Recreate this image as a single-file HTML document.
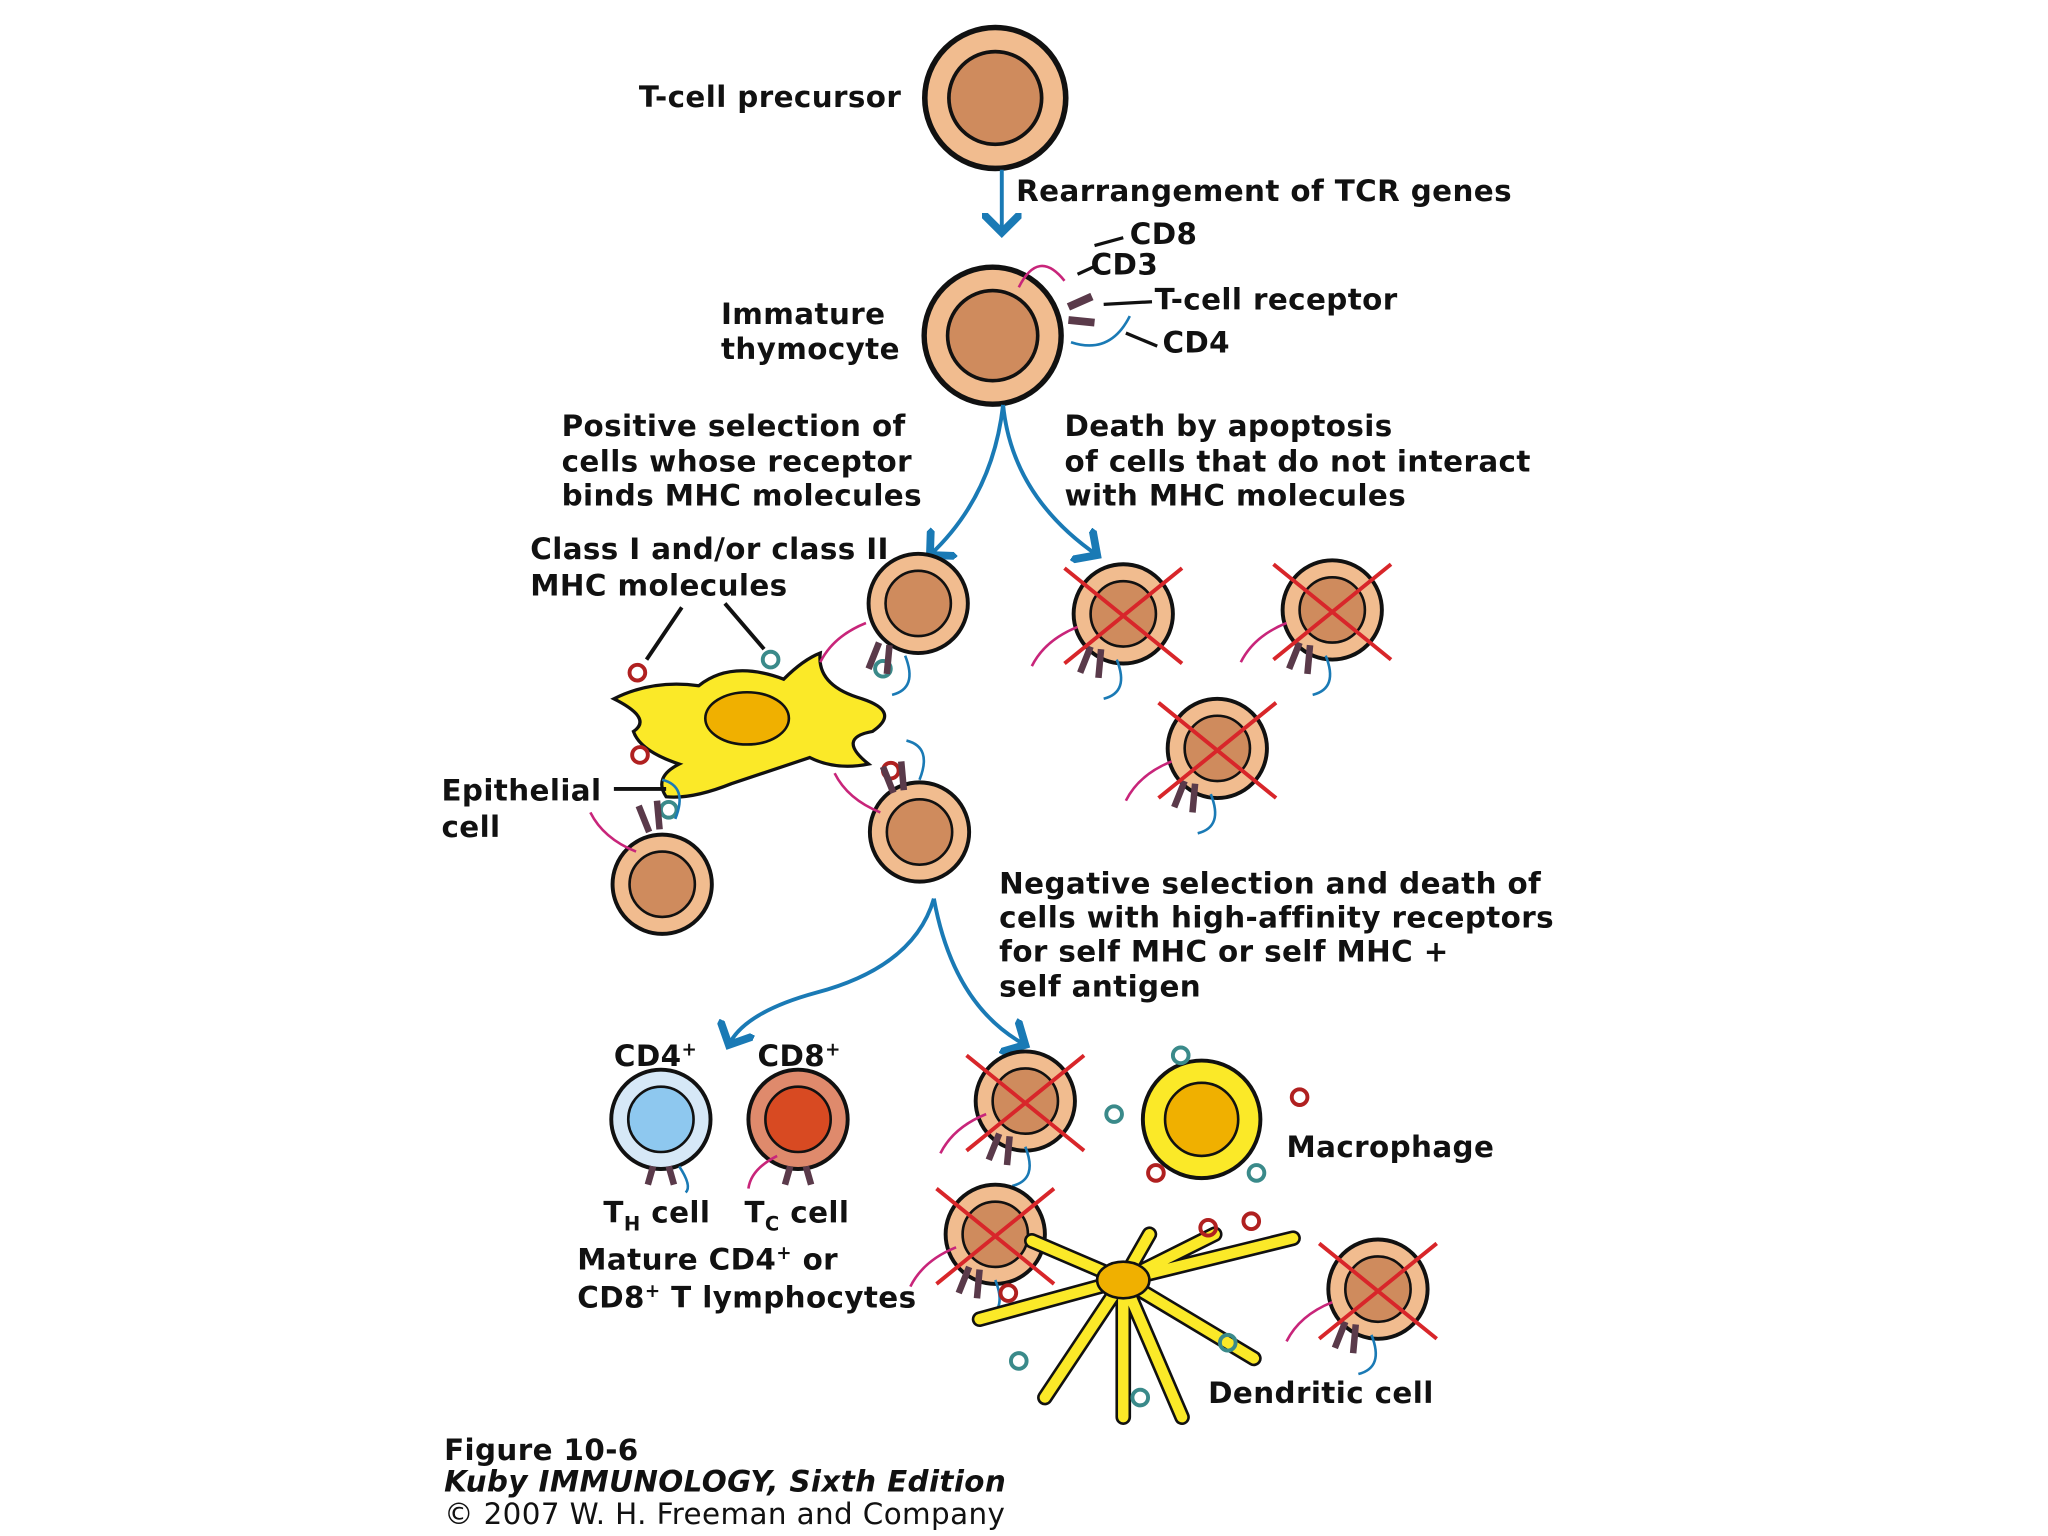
<!DOCTYPE html>
<html><head><meta charset="utf-8"><style>
html,body{margin:0;padding:0;background:#fff;}
svg{display:block;}
text{font-family:"DejaVu Sans","Liberation Sans",sans-serif;font-weight:bold;font-size:22.5px;letter-spacing:0.3px;fill:#111;}
</style></head><body>
<svg width="2048" height="1536" viewBox="0 0 1568 1176" xmlns="http://www.w3.org/2000/svg">
<defs>
<g id="cell"><circle r="38" fill="#f1bc8f" stroke="#111" stroke-width="3"/><circle r="25" fill="#cf8b5d" stroke="#111" stroke-width="2"/></g>
<g id="x"><path d="M-45,-35 L45,38 M45,-35 L-45,38" stroke="#d8262a" stroke-width="3" fill="none"/></g>
<marker id="ar" markerWidth="10" markerHeight="10" refX="5" refY="5" orient="auto"><path d="M0,0 L5,5 L0,10" stroke="#1a7ab5" stroke-width="2" fill="none"/></marker>
<g id="recp"><path d="M-30,-5 q-25,10 -35,30" stroke="#c8257a" stroke-width="2" fill="none"/><path d="M-20,10 l-8,20 M-12,12 l-2,22" stroke="#5a3a4a" stroke-width="5"/><path d="M0,20 q10,25 -10,30" stroke="#1a7ab5" stroke-width="2" fill="none"/></g>
</defs>

<g transform="translate(762,75) scale(1.42)"><use href="#cell"/></g>
<text x="690" y="82" text-anchor="end">T-cell precursor</text>
<path d="M767,130 L767,178" stroke="#1a7ab5" stroke-width="3" marker-end="url(#ar)"/>
<text x="778" y="154">Rearrangement of TCR genes</text>

<g transform="translate(760,257) scale(1.38)"><use href="#cell"/></g>
<path d="M815,215 q-20,-25 -35,5" stroke="#c8257a" stroke-width="2" fill="none"/>
<path d="M818,235 l18,-8 M818,245 l20,2" stroke="#5a3a4a" stroke-width="6"/>
<path d="M820,262 q30,10 45,-20" stroke="#1a7ab5" stroke-width="2" fill="none"/>
<path d="M838,188 L860,182 M825,210 L838,204 M845,233 L882,231 M862,255 L886,265" stroke="#111" stroke-width="2.5"/>
<text x="865" y="187">CD8</text><text x="835" y="210">CD3</text>
<text x="884" y="237">T-cell receptor</text><text x="890" y="270">CD4</text>
<text x="552" y="248">Immature</text><text x="552" y="275">thymocyte</text>

<path d="M768,310 Q760,380 712,425" stroke="#1a7ab5" stroke-width="3" fill="none" marker-end="url(#ar)"/>
<path d="M768,310 Q775,380 840,425" stroke="#1a7ab5" stroke-width="3" fill="none" marker-end="url(#ar)"/>
<text x="430" y="334">Positive selection of</text><text x="430" y="361">cells whose receptor</text><text x="430" y="387">binds MHC molecules</text>
<text x="815" y="334">Death by apoptosis</text><text x="815" y="361">of cells that do not interact</text><text x="815" y="387">with MHC molecules</text>
<text x="406" y="428">Class I and/or class II</text><text x="406" y="456">MHC molecules</text>
<path d="M522,465 L495,505 M555,462 L585,497" stroke="#111" stroke-width="3"/>

<path d="M470,535 Q500,520 535,525 Q560,505 600,520 Q615,505 628,500 Q625,525 660,535 Q690,545 668,560 Q640,565 665,585 Q640,590 620,580 Q590,590 560,600 Q530,612 510,610 Q500,595 520,585 Q490,575 485,560 Q500,550 470,535 Z" fill="#fbe928" stroke="#111" stroke-width="2.5"/>
<ellipse cx="572" cy="550" rx="32" ry="20" fill="#f0b000" stroke="#111" stroke-width="2"/>
<circle cx="488" cy="515" r="6" fill="none" stroke="#b02020" stroke-width="3"/>
<circle cx="590" cy="505" r="6" fill="none" stroke="#3a8a8a" stroke-width="3"/>
<circle cx="490" cy="578" r="6" fill="none" stroke="#b02020" stroke-width="3"/>
<circle cx="512" cy="620" r="6" fill="none" stroke="#3a8a8a" stroke-width="3"/>
<circle cx="676" cy="512" r="6" fill="none" stroke="#3a8a8a" stroke-width="3"/>
<circle cx="682" cy="590" r="6" fill="none" stroke="#b02020" stroke-width="3"/>
<path d="M470,604 L510,604" stroke="#111" stroke-width="3"/>
<text x="338" y="613">Epithelial</text><text x="338" y="641">cell</text>

<g transform="translate(703,462)"><use href="#cell"/><use href="#recp" transform="translate(-10,20)"/></g>
<g transform="translate(704,637)"><use href="#cell"/><use href="#recp" transform="translate(0,-20) rotate(180) scale(-1,1)"/></g>
<g transform="translate(507,677)"><use href="#cell"/><use href="#recp" transform="translate(10,-30) rotate(180) scale(-1,1)"/></g>

<g transform="translate(860,470)"><use href="#cell"/><use href="#recp" transform="translate(-5,15)"/><use href="#x"/></g>
<g transform="translate(1020,467)"><use href="#cell"/><use href="#recp" transform="translate(-5,15)"/><use href="#x"/></g>
<g transform="translate(932,573)"><use href="#cell"/><use href="#recp" transform="translate(-5,15)"/><use href="#x"/></g>

<text x="765" y="684">Negative selection and death of</text><text x="765" y="710">cells with high-affinity receptors</text><text x="765" y="736">for self MHC or self MHC +</text><text x="765" y="763">self antigen</text>
<path d="M715,688 Q700,740 625,760 Q570,775 558,800" stroke="#1a7ab5" stroke-width="3" fill="none" marker-end="url(#ar)"/>
<path d="M715,688 Q730,770 785,800" stroke="#1a7ab5" stroke-width="3" fill="none" marker-end="url(#ar)"/>

<text x="470" y="816">CD4<tspan font-size="14" dy="-8">+</tspan></text>
<text x="580" y="816">CD8<tspan font-size="14" dy="-8">+</tspan></text>
<circle cx="506" cy="857" r="38" fill="#d6e8f7" stroke="#111" stroke-width="3"/><circle cx="506" cy="857" r="25" fill="#8ec8ef" stroke="#111" stroke-width="2"/>
<circle cx="611" cy="857" r="38" fill="#df8a6c" stroke="#111" stroke-width="3"/><circle cx="611" cy="857" r="25" fill="#d84a22" stroke="#111" stroke-width="2"/>
<path d="M500,893 l-4,14 M512,893 l4,14 M605,893 l-4,14 M617,893 l4,14" stroke="#5a3a4a" stroke-width="5"/>
<path d="M520,893 q10,15 5,20" stroke="#1a7ab5" stroke-width="2" fill="none"/>
<path d="M595,885 q-20,10 -22,25" stroke="#c8257a" stroke-width="2" fill="none"/>
<text x="462" y="936">T<tspan font-size="15" dy="6">H</tspan><tspan dy="-6"> cell</tspan></text>
<text x="570" y="936">T<tspan font-size="15" dy="6">C</tspan><tspan dy="-6"> cell</tspan></text>
<text x="442" y="972">Mature CD4<tspan font-size="14" dy="-8">+</tspan><tspan dy="8"> or</tspan></text>
<text x="442" y="1001">CD8<tspan font-size="14" dy="-8">+</tspan><tspan dy="8"> T lymphocytes</tspan></text>

<g transform="translate(785,843)"><use href="#cell"/><use href="#recp" transform="translate(0,15)"/><use href="#x"/></g>
<circle cx="920" cy="857" r="45" fill="#fbe928" stroke="#111" stroke-width="3"/>
<circle cx="920" cy="857" r="28" fill="#f0b000" stroke="#111" stroke-width="2"/>
<circle cx="904" cy="808" r="6" fill="none" stroke="#3a8a8a" stroke-width="3"/>
<circle cx="995" cy="840" r="6" fill="none" stroke="#b02020" stroke-width="3"/>
<circle cx="962" cy="898" r="6" fill="none" stroke="#3a8a8a" stroke-width="3"/>
<circle cx="885" cy="898" r="6" fill="none" stroke="#b02020" stroke-width="3"/>
<circle cx="853" cy="853" r="6" fill="none" stroke="#3a8a8a" stroke-width="3"/>
<text x="985" y="886">Macrophage</text>

<g transform="translate(762,945)"><use href="#cell"/><use href="#recp" transform="translate(0,15)"/><use href="#x"/></g>
<g transform="translate(1055,987)"><use href="#cell"/><use href="#recp" transform="translate(-5,15)"/><use href="#x"/></g>
<g fill="none" stroke="#111" stroke-width="12" stroke-linecap="round">
<path d="M860,980 L750,1010 M860,980 L800,1070 M860,980 L860,1085 M860,980 L905,1085 M860,980 L960,1040 M860,980 L990,948 M860,980 L930,945 M860,980 L880,945 M860,980 L790,950"/>
</g>
<g fill="none" stroke="#fbe928" stroke-width="8" stroke-linecap="round">
<path d="M860,980 L750,1010 M860,980 L800,1070 M860,980 L860,1085 M860,980 L905,1085 M860,980 L960,1040 M860,980 L990,948 M860,980 L930,945 M860,980 L880,945 M860,980 L790,950"/>
</g>
<ellipse cx="860" cy="980" rx="20" ry="14" fill="#f0b000" stroke="#111" stroke-width="2"/>
<circle cx="925" cy="940" r="6" fill="none" stroke="#b02020" stroke-width="3"/>
<circle cx="958" cy="935" r="6" fill="none" stroke="#b02020" stroke-width="3"/>
<circle cx="940" cy="1028" r="6" fill="none" stroke="#3a8a8a" stroke-width="3"/>
<circle cx="780" cy="1042" r="6" fill="none" stroke="#3a8a8a" stroke-width="3"/>
<circle cx="873" cy="1070" r="6" fill="none" stroke="#3a8a8a" stroke-width="3"/>
<circle cx="772" cy="990" r="6" fill="none" stroke="#b02020" stroke-width="3"/>
<text x="925" y="1074">Dendritic cell</text>

<text x="340" y="1118">Figure 10-6</text>
<text x="340" y="1142" font-style="italic" font-size="19">Kuby IMMUNOLOGY, Sixth Edition</text>
<text x="340" y="1167" font-size="19" style="font-weight:normal">© 2007 W. H. Freeman and Company</text>
</svg>
</body></html>
